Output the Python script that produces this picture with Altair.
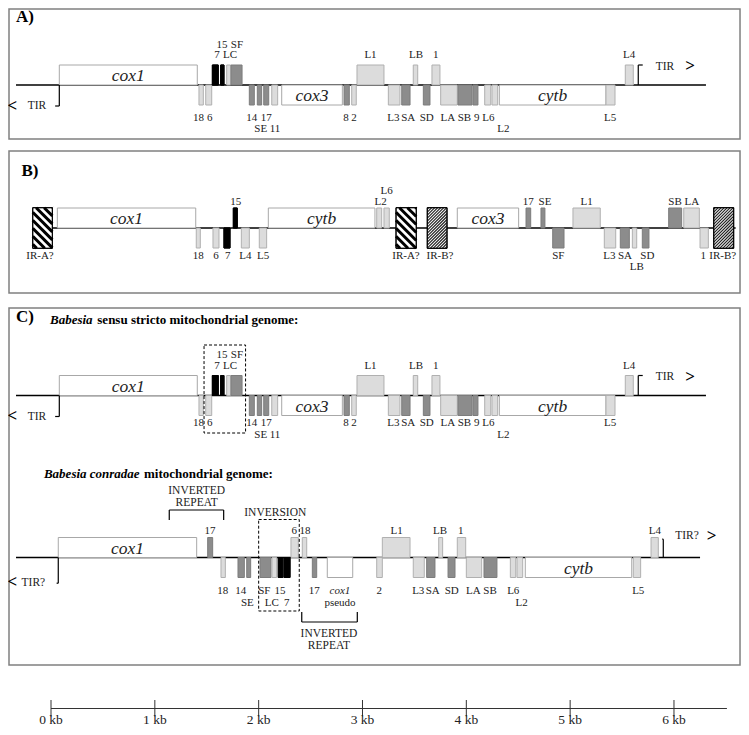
import altair as alt
import pandas as pd

# ---------------- data: gene maps (coordinates in kb) ----------------
# A) Babesia sensu stricto mitochondrial genome (also re-used in panel C, top)
A_gene   = ["cox1","18","6","7","15","LC","SF","14","SE","17","11","cox3","8","2","L1","L3","SA","LB","SD","1","LA","SB","9","L6","L2","cytb","L5","L4"]
A_start  = [0.080,1.425,1.490,1.554,1.634,1.692,1.734,1.910,1.987,2.049,2.126,2.222,2.822,2.896,2.947,3.249,3.378,3.489,3.586,3.669,3.753,3.920,4.064,4.177,4.247,4.318,5.345,5.531]
A_end    = [1.409,1.467,1.548,1.611,1.666,1.731,1.840,1.958,2.029,2.097,2.183,2.806,2.873,2.940,3.207,3.361,3.458,3.532,3.650,3.746,3.913,4.055,4.112,4.235,4.302,5.345,5.432,5.608]
A_strand = [1,-1,-1,1,1,1,1,-1,-1,-1,-1,-1,-1,-1,1,-1,-1,1,-1,1,-1,-1,-1,-1,-1,-1,-1,1]
A_kind   = ["gene","lsu","lsu","blk","blk","lsu","ssu","ssu","ssu","ssu","lsu","gene","ssu","lsu","lsu","lsu","ssu","lsu","ssu","lsu","lsu","ssu","ssu","lsu","lsu","gene","lsu","lsu"]
A_lab    = ["15","SF","7","LC","L1","LB","1","L4","18","6","14","SE","17","11","8","2","L3","SA","SD","LA","SB","9","L6","L2","L5"]
A_lab_x  = [1.647,1.791,1.599,1.724,3.077,3.515,3.705,5.567,1.420,1.530,1.933,2.020,2.074,2.157,2.841,2.918,3.297,3.441,3.618,3.822,3.982,4.100,4.212,4.356,5.384]
A_lab_row= [2,2,1,1,1,1,1,1,-1,-1,-1,-2,-1,-2,-1,-1,-1,-1,-1,-1,-1,-1,-1,-2,-1]

# B) linear map with inverted repeats
B_gene   = ["IR-A?","cox1","18","6","7","15","L4","L5","cytb","L2","L6","IR-A?","IR-B?","cox3","17","SE","SF","L1","L3","SA","LB","SD","SB","LA","1","IR-B?"]
B_start  = [-0.176,0.061,1.399,1.560,1.666,1.756,1.833,2.006,2.093,3.137,3.207,3.323,3.624,3.913,4.575,4.719,4.832,5.027,5.329,5.483,5.599,5.695,5.949,6.094,6.251,6.383]
B_end    = [0.013,1.394,1.438,1.618,1.724,1.794,1.910,2.077,3.120,3.185,3.258,3.518,3.814,4.504,4.620,4.757,4.941,5.290,5.439,5.570,5.641,5.759,6.074,6.244,6.331,6.575]
B_strand = [0,1,-1,-1,-1,1,-1,-1,1,1,1,0,0,1,1,1,-1,1,-1,-1,-1,-1,1,1,-1,0]
B_kind   = ["irA","gene","lsu","lsu","blk","blk","lsu","lsu","gene","lsu","lsu","irA","irB","gene","ssu","ssu","ssu","lsu","lsu","ssu","lsu","ssu","ssu","lsu","lsu","irB"]
B_lab    = ["15","L2","L6","17","SE","L1","SB","LA","IR-A?","18","6","7","L4","L5","IR-A?","IR-B?","SF","L3","SA","LB","SD","1","IR-B?"]
B_lab_x  = [1.779,3.175,3.233,4.597,4.758,5.159,6.010,6.171,-0.106,1.419,1.589,1.702,1.871,2.042,3.419,3.746,4.886,5.377,5.528,5.641,5.743,6.282,6.470]
B_lab_row= [1,1,2,1,1,1,1,1,-1,-1,-1,-1,-1,-1,-1,-1,-1,-1,-1,-2,-1,-1,-1]

# C) Babesia conradae mitochondrial genome
D_gene   = ["cox1","17","18","14","SE","SF","LC","15","7","6","18","17","cox1 pseudo","2","L1","L3","SA","LB","SD","1","LA","SB","L6","L2","cytb","L5","L4"]
D_start  = [0.070,1.509,1.637,1.801,1.885,2.013,2.128,2.189,2.244,2.311,2.420,2.517,2.661,3.137,3.191,3.489,3.618,3.734,3.824,3.913,4.000,4.170,4.424,4.488,4.568,5.608,5.779]
D_end    = [1.403,1.557,1.679,1.862,1.923,2.119,2.174,2.232,2.302,2.382,2.463,2.559,2.906,3.191,3.458,3.595,3.698,3.772,3.891,3.994,4.148,4.295,4.476,4.543,5.593,5.679,5.849]
D_strand = [1,1,-1,-1,-1,-1,-1,-1,-1,1,1,-1,-1,-1,1,-1,-1,1,-1,1,-1,-1,-1,-1,-1,-1,1]
D_kind   = ["gene","ssu","lsu","ssu","ssu","ssu","lsu","blk","blk","lsu","lsu","ssu","gene","lsu","lsu","lsu","ssu","lsu","ssu","lsu","lsu","ssu","lsu","lsu","gene","lsu","lsu"]
D_lab    = ["17","6","18","L1","LB","1","L4","18","14","SE","SF","15","LC","7","17","2","L3","SA","SD","LA","SB","L6","L2","L5","pseudo"]
D_lab_x  = [1.531,2.343,2.446,3.329,3.746,3.946,5.817,1.654,1.827,1.891,2.054,2.206,2.126,2.270,2.536,3.162,3.537,3.676,3.859,4.067,4.228,4.452,4.533,5.656,2.783]
D_lab_row= [1,1,1,1,1,1,1,-1,-1,-2,-1,-1,-2,-2,-1,-1,-1,-1,-1,-1,-1,-1,-2,-1,-2]

# extent of the chromosome line of each map (kb)
LINE_TRACK = ["A","B","C1","C2"]
LINE_START = [-0.337, 0.013, -0.337, -0.337]
LINE_END   = [6.308, 6.594, 6.308, 6.251]

# scale bar
SCALE_KB     = [0, 1, 2, 3, 4, 5, 6]
SCALE_LABELS = ["0 kb","1 kb","2 kb","3 kb","4 kb","5 kb","6 kb"]
SCALE_END_KB = 6.51

# ---------------- layout ----------------
PX_PER_KB = 103.83
H = 20      # gene box height
HIR = 20.3  # inverted repeat half height
TRACKS = {
    "A":  dict(base=85,    up=(30, 40.5),   down=(32.5, 43.5)),
    "B":  dict(base=228,   up=(26.3, 36.8), down=(27.5, 38.5)),
    "C1": dict(base=395.5, up=(30, 40.5),   down=(27.5, 39)),
    "C2": dict(base=557.5, up=(26.5, 37),   down=(33.5, 45.5)),
}
FILL   = {"gene": "white", "lsu": "#dcdcdc", "ssu": "#8c8c8c", "blk": "#000000", "irA": "white", "irB": "white"}
STROKE = {"gene": "#a8a8a8", "lsu": "#b0b0b0", "ssu": "#7c7c7c", "blk": "#000000", "irA": "#000000", "irB": "#000000"}
FONT = "Liberation Serif, Times New Roman, Times, serif"

xs = alt.Scale(domain=[-0.41414, 6.64548], nice=False, zero=False)
ys = alt.Scale(domain=[8, 727], reverse=True, nice=False, zero=False)
X = lambda f: alt.X(f, type="quantitative", scale=xs, axis=None)
Y = lambda f: alt.Y(f, type="quantitative", scale=ys, axis=None)

rects, hatch, labels, names = [], [], [], []

def add_track(tr, genes, starts, ends, strands, kinds, labs, lab_x, lab_row):
    t = TRACKS[tr]
    b = t["base"]
    for g, s, e, st, k in zip(genes, starts, ends, strands, kinds):
        if st > 0:
            y0, y1 = b - H, b
        elif st < 0:
            y0, y1 = b, b + H
        else:
            y0, y1 = b - HIR, b + HIR
        rects.append(dict(x=s, x2=e, y=y0, y2=y1, fill=FILL[k], stroke=STROKE[k]))
        if k == "gene" and e - s > 0.5:
            names.append(dict(x=(s + e) / 2, y=y1 - 4, t=g))
        if k in ("irA", "irB"):
            w = (e - s) * PX_PER_KB
            h = y1 - y0
            step = 8.0 if k == "irA" else 3.0
            c = -h + step / 2
            while c < w:
                t0 = max(0.0, -c)
                t1 = min(h, w - c)
                if t1 > t0:
                    if k == "irA":
                        ya, yb = y0 + t0, y0 + t1
                    else:
                        ya, yb = y1 - t0, y1 - t1
                    hatch.append(dict(x=s + (c + t0) / PX_PER_KB, x2=s + (c + t1) / PX_PER_KB,
                                      y=ya, y2=yb, kind=k))
                c += step
    for l, lx, r in zip(labs, lab_x, lab_row):
        y = b - t["up"][r - 1] if r > 0 else b + t["down"][-r - 1]
        labels.append(dict(x=lx, y=y, t=l))

add_track("A", A_gene, A_start, A_end, A_strand, A_kind, A_lab, A_lab_x, A_lab_row)
add_track("B", B_gene, B_start, B_end, B_strand, B_kind, B_lab, B_lab_x, B_lab_row)
add_track("C1", A_gene, A_start, A_end, A_strand, A_kind, A_lab, A_lab_x, A_lab_row)
add_track("C2", D_gene, D_start, D_end, D_strand, D_kind, D_lab, D_lab_x, D_lab_row)

# chromosome lines
lines = [dict(x=s, x2=e, y=TRACKS[t]["base"], y2=TRACKS[t]["base"]) for t, s, e in zip(LINE_TRACK, LINE_START, LINE_END)]

# TIR brackets (x kb, vertical extent from the line, tick)
segs = []
for tr, xk, tip, tick in [("A", 0.080, 21, -0.04), ("A", 5.656, -20, 0.043),
                          ("C1", 0.080, 21, -0.04), ("C1", 5.656, -20, 0.043),
                          ("C2", 0.070, 25.7, -0.016), ("C2", 5.897, -18.3, -0.01)]:
    b = TRACKS[tr]["base"]
    segs.append(dict(x=xk, x2=xk, y=b, y2=b + tip))
    segs.append(dict(x=xk, x2=xk + tick, y=b + tip, y2=b + tip))
# inverted repeat brackets (conradae)
for xa, xb, ybar, yend in [(1.139, 1.663, 510, 520), (2.415, 2.950, 622, 612)]:
    segs.append(dict(x=xa, x2=xb, y=ybar, y2=ybar))
    segs.append(dict(x=xa, x2=xa, y=ybar, y2=yend))
    segs.append(dict(x=xb, x2=xb, y=ybar, y2=yend))
# scale bar
scale_segs = [dict(x=0, x2=SCALE_END_KB, y=708.5, y2=708.5)] + [dict(x=k, x2=k, y=700, y2=716.5) for k in SCALE_KB]

# dashed boxes
dashed = pd.DataFrame([dict(x=1.474, x2=1.874, y=345, y2=433), dict(x=2.000, x2=2.391, y=519.5, y2=611)])
# panel frames
frames = pd.DataFrame([dict(x=-0.4045, x2=6.636, y=9, y2=139),
                       dict(x=-0.4045, x2=6.636, y=151, y2=293),
                       dict(x=-0.4045, x2=6.636, y=308, y2=665)])

# other texts
annot = pd.DataFrame([
    dict(x=1.403, y=490.5, t="INVERTED"), dict(x=1.403, y=502.5, t="REPEAT"),
    dict(x=2.677, y=633.5, t="INVERTED"), dict(x=2.677, y=646, t="REPEAT"),
    dict(x=2.160, y=513.0, t="INVERSION"),
    dict(x=-0.135, y=106, t="TIR"), dict(x=5.913, y=66.5, t="TIR"),
    dict(x=-0.135, y=416.5, t="TIR"), dict(x=5.913, y=377, t="TIR"),
    dict(x=-0.170, y=582.5, t="TIR?"), dict(x=6.125, y=536.0, t="TIR?"),
])
arrows = pd.DataFrame([
    dict(x=-0.372, y=105.5, t="<"), dict(x=6.154, y=66.0, t=">"),
    dict(x=-0.372, y=416.0, t="<"), dict(x=6.154, y=376.5, t=">"),
    dict(x=-0.372, y=582.0, t="<"), dict(x=6.363, y=535.5, t=">"),
])
panels = pd.DataFrame([dict(x=-0.337, y=17, t="A)"), dict(x=-0.285, y=171, t="B)"), dict(x=-0.337, y=317, t="C)")])
titles_it = pd.DataFrame([dict(x=-0.010, y=320, t="Babesia"), dict(x=-0.068, y=474, t="Babesia conradae")])
titles_bd = pd.DataFrame([dict(x=0.446, y=320, t="sensu stricto mitochondrial genome:"),
                          dict(x=0.896, y=474, t="mitochondrial genome:")])
small_it = pd.DataFrame([dict(x=2.783, y=557.5 + 33.5, t="cox1")])
scale_txt = pd.DataFrame(dict(x=SCALE_KB, y=[719.5] * len(SCALE_KB), t=SCALE_LABELS))

def seg_layer(df, **kw):
    return alt.Chart(pd.DataFrame(df)).mark_rule(**kw).encode(
        x=X("x"), x2="x2", y=Y("y"), y2="y2")

def text_layer(df, **kw):
    return alt.Chart(pd.DataFrame(df)).mark_text(font=FONT, baseline="middle", **kw).encode(
        x=X("x"), y=Y("y"), text="t:N")

hatch_df = pd.DataFrame(hatch)
rect_df = pd.DataFrame(rects)

layers = [
    alt.Chart(frames).mark_rect(fillOpacity=0, stroke="#808080", strokeWidth=1.5).encode(
        x=X("x"), x2="x2", y=Y("y"), y2="y2"),
    seg_layer(lines, color="black", strokeWidth=1.4),
    alt.Chart(rect_df).mark_rect(strokeWidth=1).encode(
        x=X("x"), x2="x2", y=Y("y"), y2="y2",
        fill=alt.Fill("fill:N", scale=None), stroke=alt.Stroke("stroke:N", scale=None)),
    alt.Chart(hatch_df[hatch_df.kind == "irA"]).mark_rule(color="black", strokeWidth=3.0, strokeCap="butt").encode(
        x=X("x"), x2="x2", y=Y("y"), y2="y2"),
    alt.Chart(hatch_df[hatch_df.kind == "irB"]).mark_rule(color="#222222", strokeWidth=1.2, strokeCap="butt").encode(
        x=X("x"), x2="x2", y=Y("y"), y2="y2"),
    alt.Chart(rect_df[rect_df.stroke == "#000000"]).mark_rect(fillOpacity=0, stroke="black", strokeWidth=1).encode(
        x=X("x"), x2="x2", y=Y("y"), y2="y2"),
    seg_layer(segs, color="black", strokeWidth=1.2),
    seg_layer(scale_segs, color="#333333", strokeWidth=1),
    alt.Chart(dashed).mark_rect(fillOpacity=0, stroke="black", strokeWidth=1, strokeDash=[3, 2]).encode(
        x=X("x"), x2="x2", y=Y("y"), y2="y2"),
    text_layer(labels, fontSize=11, color="#222222"),
    alt.Chart(pd.DataFrame(names)).mark_text(font=FONT, fontSize=17.5, fontStyle="italic", baseline="alphabetic", color="#222222").encode(
        x=X("x"), y=Y("y"), text="t:N"),
    text_layer(small_it, fontSize=11, fontStyle="italic", color="#222222"),
    text_layer(annot, fontSize=11.5, color="#222222"),
    text_layer(arrows, fontSize=17, fontWeight="bold", color="black"),
    text_layer(panels, fontSize=17, fontWeight="bold", align="left", color="black"),
    text_layer(titles_it, fontSize=13, fontWeight="bold", fontStyle="italic", align="left", color="black"),
    text_layer(titles_bd, fontSize=13, fontWeight="bold", align="left", color="black"),
    text_layer(scale_txt, fontSize=13.5, color="#222222"),
]

chart = alt.layer(*layers).properties(
    width=733, height=719,
    autosize=alt.AutoSizeParams(type="none"),
    padding=0,
    background="white",
).configure_view(stroke=None)

chart.save("out.html", embed_options={"renderer": "svg", "actions": False})
